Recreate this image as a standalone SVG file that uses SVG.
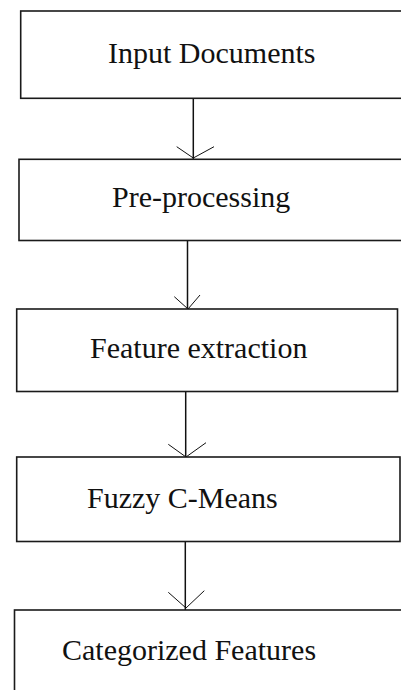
<svg xmlns="http://www.w3.org/2000/svg" width="401" height="690" viewBox="0 0 401 690">
  <style>
    .box { fill: #ffffff; stroke: #1a1a1a; stroke-width: 1.6; }
    .lbl { font-size: 30px; fill: #111111; }
    .edge { fill: none; stroke: #111111; stroke-width: 1.5; }
    .head { fill: none; stroke: #111111; stroke-width: 1; }
  </style>
  <rect x="0" y="0" width="401" height="690" fill="#ffffff"/>
  <g id="connectors">
    <path class="edge" d="M193.3 98.5 V159"/>
    <path class="head" d="M176.7 146.7 L193.3 158 L214 146.7"/>
    <path class="edge" d="M187.5 240.5 V309"/>
    <path class="head" d="M174.3 296.7 L188 309 L200 295"/>
    <path class="edge" d="M185.7 391.5 V457"/>
    <path class="head" d="M168.3 444.3 L186 457 L206 442.7"/>
    <path class="edge" d="M185.3 541.5 V610"/>
    <path class="head" d="M168.3 592.3 L186 608 L204.3 590.7"/>
  </g>
  <g id="node-input">
    <rect class="box" x="20.7" y="11" width="400" height="87.3"/>
    <text class="lbl" font-family="'Liberation Serif', 'DejaVu Serif', serif" x="108" y="63">Input Documents</text>
  </g>
  <g id="node-preprocessing">
    <rect class="box" x="19" y="159.3" width="400" height="81.2"/>
    <text class="lbl" font-family="'Liberation Serif', 'DejaVu Serif', serif" x="112" y="207">Pre-processing</text>
  </g>
  <g id="node-feature">
    <rect class="box" x="16.7" y="309" width="380.8" height="82.5"/>
    <text class="lbl" font-family="'Liberation Serif', 'DejaVu Serif', serif" x="90" y="358">Feature extraction</text>
  </g>
  <g id="node-fcm">
    <rect class="box" x="16.7" y="457" width="383.3" height="84.5"/>
    <text class="lbl" font-family="'Liberation Serif', 'DejaVu Serif', serif" x="87" y="508">Fuzzy C-Means</text>
  </g>
  <g id="node-categorized">
    <rect class="box" x="14.5" y="610" width="400" height="100"/>
    <text class="lbl" font-family="'Liberation Serif', 'DejaVu Serif', serif" x="62" y="660">Categorized Features</text>
  </g>
</svg>
